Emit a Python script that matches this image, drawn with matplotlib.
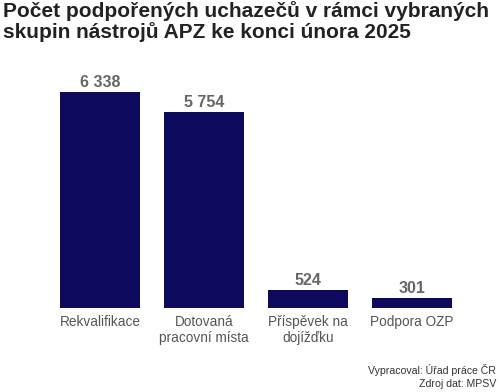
import matplotlib
matplotlib.use("Agg")
import matplotlib.pyplot as plt

# Data
categories = ["Rekvalifikace", "Dotovaná\npracovní místa", "Příspěvek na\ndojížďku", "Podpora OZP"]
values = [6338, 5754, 524, 301]
value_labels = ["6 338", "5 754", "524", "301"]

title = "Počet podpořených uchazečů v rámci vybraných\nskupin nástrojů APZ ke konci února 2025"
source = "Vypracoval: Úřad práce ČR\nZdroj dat: MPSV"

plt.rcParams['font.family'] = ['Liberation Sans', 'DejaVu Sans']

fig = plt.figure(figsize=(5, 3.92), dpi=100)
ax = fig.add_axes([0.096, 0.2143, 0.832, 0.609])

x = range(len(categories))
bars = ax.bar(x, values, width=0.77, color="#0d0a5e")

for b, lab in zip(bars, value_labels):
    ax.annotate(lab, (b.get_x() + b.get_width() / 2, b.get_height()),
                xytext=(0, 1.5), textcoords="offset points",
                ha="center", va="bottom", fontsize=11.5, fontweight="bold", color="#666666")

ax.set_xlim(-0.5, 3.5)
ax.set_ylim(0, 7000)
ax.set_xticks(list(x))
ax.set_xticklabels(categories, fontsize=9.8, color="#555555", linespacing=1.15)
ax.tick_params(axis="x", length=0, pad=5)
ax.set_yticks([])
for s in ax.spines.values():
    s.set_visible(False)

fig.text(0.006, 0.997, title, ha="left", va="top", fontsize=15,
         fontweight="bold", color="#222222", linespacing=1.05)
fig.text(0.992, 0.008, source, ha="right", va="bottom", fontsize=7.6,
         color="#333333", linespacing=1.3)

fig.savefig("out.png", dpi=100)
